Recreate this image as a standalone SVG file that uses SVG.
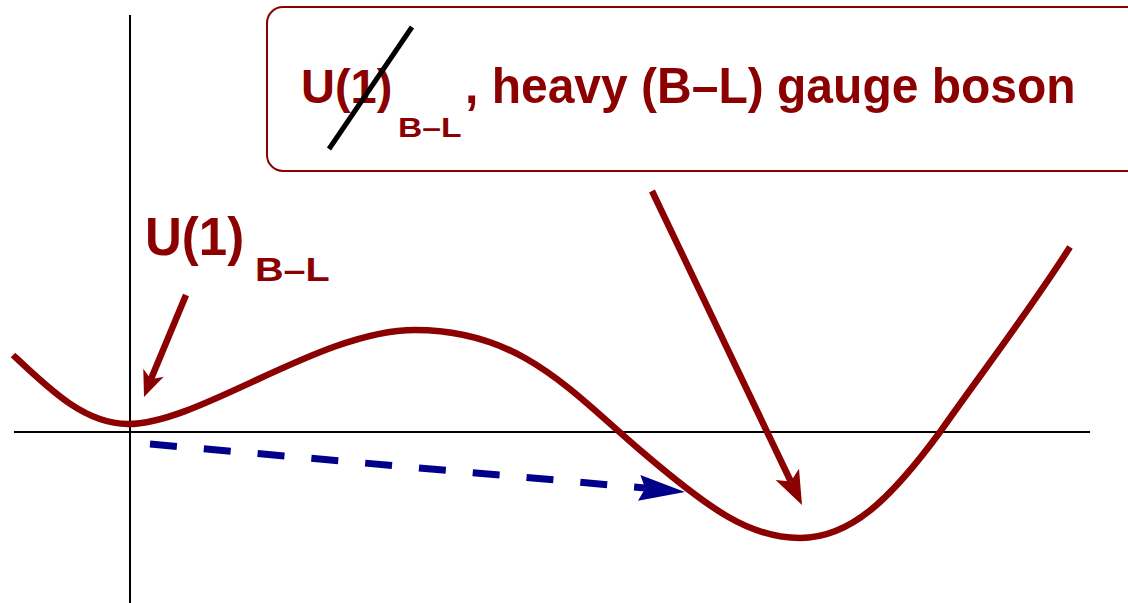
<svg xmlns="http://www.w3.org/2000/svg" width="1128" height="603" viewBox="0 0 1128 603">
<style>
.axis{stroke:#000;stroke-width:2;fill:none}
.red{stroke:#8B0000;stroke-width:6.5;fill:none;stroke-linecap:butt}
.redfill{fill:#8B0000;stroke:none}
.lbl{font-family:"Liberation Sans",Arial,sans-serif;font-weight:bold;fill:#8B0000}
</style>
<rect width="1128" height="603" fill="#fff"/>
<g id="axes">
<line class="axis" x1="14" y1="432" x2="1090" y2="432"/>
<line class="axis" x1="130" y1="15" x2="130" y2="603"/>
</g>
<g id="potential">
<path class="red" d="M13,355 C50,390 85,424 128,424 C200,424 320,330 415,330 C520,330 570,390 640,450 C710,510 750,538 800,538 C850,538 890,500 940,432 C980,375 1030,310 1070,247"/>
</g>
<g id="box">
<rect x="267" y="7" width="900" height="164" rx="16" ry="16" fill="none" stroke="#8B0000" stroke-width="2"/>
<text class="lbl" font-size="47" transform="translate(301,103) scale(1,1.03)">U(1)</text>
<text class="lbl" font-size="28" transform="translate(398,137) scale(1.2,1)">B–L</text>
<text class="lbl" font-size="48" transform="translate(465,103) scale(1,1.03)">, heavy (B–L) gauge boson</text>
<line x1="412" y1="27" x2="329" y2="149" stroke="#000" stroke-width="5"/>
</g>
<g id="label-unbroken">
<text class="lbl" font-size="51" transform="translate(145,255) scale(1,1.07)">U(1)</text>
<text class="lbl" font-size="33" transform="translate(255,281) scale(1.2,1)">B–L</text>
</g>
<g id="connectors">
<line class="red" x1="186" y1="295" x2="150.9" y2="379.3"/>
<path class="redfill" d="M144,397 L143.3,368.8 L150.9,379.3 L163.7,376.8 Z"/>
<line class="red" x1="652" y1="191" x2="790.8" y2="481.5"/>
<path class="redfill" d="M802,505 L799,468.7 L790.8,481.5 L775.6,479.9 Z"/>
<line x1="150" y1="444" x2="645" y2="488" stroke="#00008B" stroke-width="7" stroke-dasharray="27 27"/>
<path fill="#00008B" d="M685,492 L640.4,475 L645.2,488.4 L638,500.8 Z"/>
</g>
</svg>
